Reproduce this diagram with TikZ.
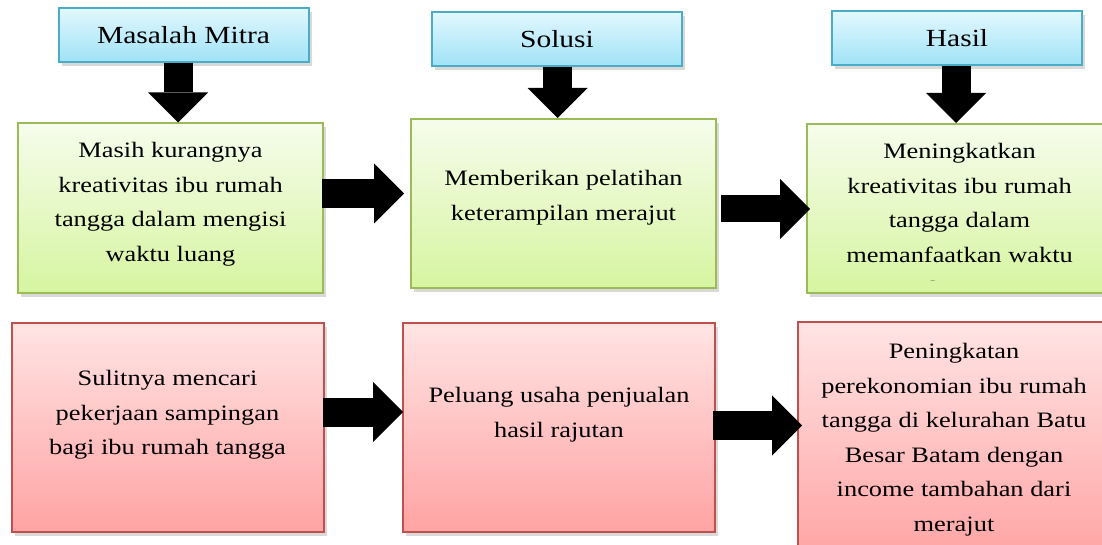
\documentclass[tikz,border=0pt]{standalone}
\usepackage{fontspec}
\setmainfont[FakeStretch=1.2]{Liberation Serif}
\usetikzlibrary{arrows.meta,shadows}

\definecolor{birutepi}{RGB}{75,172,198}
\definecolor{biruatas}{RGB}{226,248,254}
\definecolor{birubawah}{RGB}{160,226,246}
\definecolor{hijautepi}{RGB}{155,187,89}
\definecolor{hijauatas}{RGB}{246,252,236}
\definecolor{hijaubawah}{RGB}{214,245,160}
\definecolor{merahtepi}{RGB}{192,80,77}
\definecolor{merahatas}{RGB}{255,228,228}
\definecolor{merahbawah}{RGB}{255,163,163}

\begin{document}
\begin{tikzpicture}[x=0.5pt, y=-0.5pt,
  bayang/.style={drop shadow={opacity=0.3, shadow xshift=1.5pt, shadow yshift=-2pt}},
  judul/.style={draw=birutepi, line width=1pt, top color=biruatas, bottom color=birubawah, bayang,
    minimum width=125pt, minimum height=27pt, inner sep=0pt, font=\fontsize{12.3}{14}\selectfont},
  kotakhijau/.style={draw=hijautepi, line width=1pt, top color=hijauatas, bottom color=hijaubawah, bayang,
    minimum width=152.5pt, minimum height=84.5pt, inner sep=0pt},
  kotakmerah/.style={draw=merahtepi, line width=1pt, top color=merahatas, bottom color=merahbawah, bayang,
    minimum width=156pt, minimum height=104.5pt, inner sep=0pt},
  isi/.style={align=center, inner sep=0pt, anchor=north, font=\fontsize{11}{17.25}\selectfont},
  panah/.style={line width=14.5pt, -{Triangle[width=30pt, length=15pt, line width=0pt]}}]
\useasboundingbox (0,0) rectangle (1102,545);

% judul kolom
\node[judul] (b1) at (183.5,35) {Masalah Mitra};
\node[judul] (b2) at (557,39) {Solusi};
\node[judul] (b3) at (957,38.5) {Hasil};

% baris hijau
\node[kotakhijau] (g1) at (170.5,208) {};
\node[kotakhijau] (g2) at (563.5,203.5) {};
\node[kotakhijau] (g3) at (959.5,208.5) {};

% baris merah
\node[kotakmerah] (r1) at (167.5,427.5) {};
\node[kotakmerah] (r2) at (559,427.5) {};
\node[kotakmerah, minimum height=120pt] (r3) at (954,442) {};

% teks
\node[isi] (g1t) at (170.5,142) {Masih kurangnya\\kreativitas ibu rumah\\tangga dalam mengisi\\waktu luang};
\node[isi] (g2t) at (563.5,170) {Memberikan pelatihan\\keterampilan merajut};
\begin{scope}
\clip (807,124) rectangle (1102,280);
\node[isi] (g3t) at (959.5,143) {Meningkatkan\\kreativitas ibu rumah\\tangga dalam\\memanfaatkan waktu\\luang};
\end{scope}
\node[isi] (r1t) at (167.5,370) {Sulitnya mencari\\pekerjaan sampingan\\bagi ibu rumah tangga};
\node[isi] (r2t) at (559,387) {Peluang usaha penjualan\\hasil rajutan};
\node[isi] (r3t) at (954,343) {Peningkatan\\perekonomian ibu rumah\\tangga di kelurahan Batu\\Besar Batam dengan\\income tambahan dari\\merajut};

% panah
\draw[panah] ([xshift=-2.75pt]b1.south) -- ([xshift=3.75pt]g1.north);
\draw[panah] ([xshift=0.25pt]b2.south) -- ([xshift=-3pt]g2.north);
\draw[panah] ([xshift=-0.5pt]b3.south) -- ([xshift=-1.75pt]g3.north);
\draw[panah] ([shift={(-2,-14.5)}]g1.east) -- ([shift={(-6,-10)}]g2.west);
\draw[panah, line width=13.5pt] ([shift={(4,5.5)}]g2.east) -- ([shift={(4,0.5)}]g3.west);
\draw[panah] ([shift={(-2,-15.5)}]r1.east) -- ([shift={(1,-15.5)}]r2.west);
\draw[panah] ([shift={(-3,-2)}]r2.east) -- ([shift={(5,-16.5)}]r3.west);
\end{tikzpicture}
\end{document}
